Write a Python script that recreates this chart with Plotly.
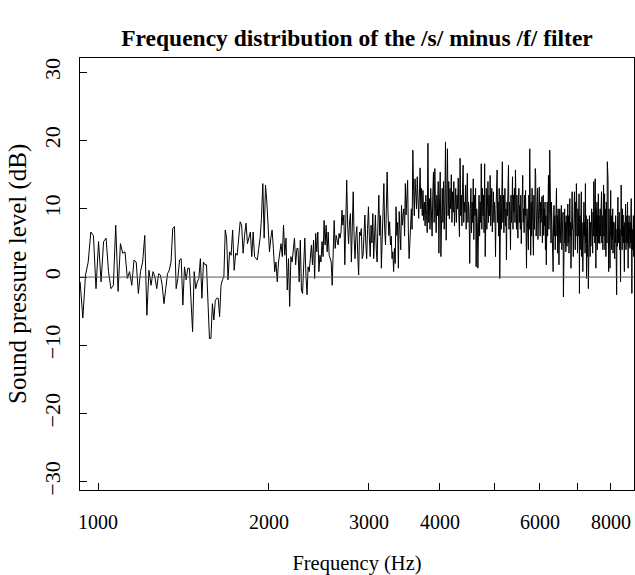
import numpy as np
import plotly.graph_objects as go

# Frequency bounds (Hz) of consecutive stretches of FFT bins
seg_bounds = [930, 1250, 1694, 2250, 2929, 3734, 4665, 5714, 6858, 7776, 8785]

# Level (dB) of the /s/ minus /f/ filter, read stretch by stretch
db_0930_1250 = [-0.7, -6.0, 0.3, 2.2, 6.6, 6.1, -1.7, 5.2, -0.7, 5.2, 5.7, 0.8, -1.7, -1.2, 7.6, -2.1,
                4.9, 3.5, 3.7, -0.2, 0.8, -1.2, 2.5, 2.2, -2.4, 0.8, 2.2, 6.1, -5.6, 1.0, -1.2]
db_1250_1694 = [0.8, 0, -1.7, 0.5, 0.3, -1.2, -3.9, -1.7, 0.5, 1.0, 2.2, 7.1, 7.4, -1.7, -0.2, 2.5,
                2.7, -4.1, 1.5, -0.4, 1.3, 1.3, -3.6, -8.0, 0.8, -1.7, -0.7, -0.2, 2.7, -3.1, 2.2, 1.8,
                1.8, -4.1, -9.0, -9.0, -3.9, -6.3, -3.4, -3.1, -3.1, -5.8, -1.2, -0.4, 0, 6.9, 5.7]
db_1694_2250 = [-0.4, 3.7, 3.2, 6.9, 1.0, 3.5, 3.2, 5.2, 8.1, 7.6, 3.5, 6.1, 7.9, 4.9, 5.7, 6.6,
                3.0, 6.6, 3.0, 2.7, 2.5, 4.2, 5.7, 8.6, 13.7, 5.7, 13.5, 11.0, 6.1, 3.7, 5.7, 6.9,
                4.2, 0.8, 2.2, -0.7, 2.2, 3.5, 4.9, 3.0, 7.6, 3.2, 5.7, -1.9, 2.7, -4.3, 3.0, 2.2,
                3.7, 5.7, 1.8, 4.2]
db_2250_2929 = [4.2, -0.7, 5.4, -1.9, -2.4, 1.3, 5.7, 0.3, -2.6, 1.5, 0.8, 2.7, 4.7, 1.8, 5.4, -0.2,
                6.4, 3.7, 6.6, 0.8, 3.2, 2.2, 5.2, 3.0, 8.3, 4.7, 7.6, 3.7, 6.6, 3.2, 2.7, 2.2,
                -1.2, 5.7, 8.3, 4.2, 6.1, 5.4, 4.7, 6.4, 5.7, 6.6, 9.8, 7.6, 9.1, 1.8, 6.6, 14.2,
                7.6, 4.9, 8.1, 9.3, 2.2, 6.1, 12.5, 5.7, 2.7, 6.1, 7.4, 3.2, 0.3, 6.6, 6.1, 7.1, 2.7]
db_2929_3734 = [3.2, 6, 9.1, 5, 2.7, 7, 10.3, 6, 3.0, 7.6, 5, 9.3, 2.7, 6, 9.1, 4,
                2.2, 8, 12.0, 6.1, 9, 1.3, 5, 8.6, 13.7, 7, 4.7, 10, 15.4, 9.6, 6.1, 8.1,
                4.7, 6, 2.7, 3.7, 0.8, 4.2, 2, 10.3, 6.1, 8, 1.3, 9.6, 6.6, 4, 10.5, 7.6,
                9, 10.0, 6, 13.7, 9.1, 11, 14.2, 6.6, 2.7, 5, 7.6, 10.0, 7, 18.6, 12.7, 9,
                14.4, 12.5, 10, 14.7, 11.5, 8.6, 12, 16, 10, 13, 9]
db_3734_4665 = [12.7, 8.3, 11, 7.5, 12, 9, 6.5, 19.6, 8, 11.5,
                7, 13, 9.5, 6, 12, 15.4, 8, 15.9, 10, 6.5,
                12, 9, 14, 3.5, 11, 15.4, 3.0, 10, 13, 8,
                14, 7, 11, 19.8, 5.4, 12, 18.8, 9, 14, 8.5,
                13, 10, 15, 8, 12.5, 9.5, 14, 7.5, 11, 13,
                8, 12, 10, 14.5, 9, 5.9, 17.4, 9, 12, 7.5,
                13, 16.4, 8, 11, 9.5, 13.5, 7, 12, 15.2, 8,
                11, 9, 2.0, 10, 13, 6.5, 11, 8, 14.4, 5.5,
                12, 9, 13, 1.5, 10, 8]
db_4665_5714 = [1.3, 9, 12, 6, 11, 8, 16.6, 7, 13, 9,
                12, 6.5, 16.6, 3.0, 10, 13, 7, 11, 14, 8,
                12, 9, 14.9, 7.5, 11, 13, 6.6, 10, 12.5, 8,
                11, 9, 3.0, 10, 12, 15.7, 8, 11, 6, 13,
                -0.2, 9, 12, 7, 10.5, 16.9, 8, 12, 6.5, 11,
                13, 7.5, 10, 2.5, 11, 9, 13, 16.4, 7, 11,
                9, 4.0, 12, 8, 10.5, 14.7, 7, 12, 9.5, 13,
                8, 15.7, 10, 7, 12, 9, 5.7, 11, 13, 8,
                10.5, 7, 12, 4.9, 9, 11.5, 14.9, 8, 10, 6.5,
                12, 9, 12.7, 7, 1.3, 10, 8]
db_5714_6858 = [9, 4, 12, 7, 18.8, 10, 3.2, 11, 6, 13,
                8, 10, 3.2, 12, 7, 9.5, 15.9, 14.9, 6, 11,
                8, 13, 5.5, 10, 7.5, 13.2, 9, 6, 11, 8,
                10, 11.8, 5, 9, 12, 6.1, 10, 7.5, 11, 4,
                9, 1.8, 8, 11, 6, 10, 14.9, 7, 9, 18.6,
                8, 9.6, 5, 11, 7, 10, 4.5, 0.8, 8, 10.5,
                6, 9, 4, 11, 7.5, 13.0, 6, 9, 3.5, 10,
                7, 1.8, 8, 10, 5, 9, 6.5, 10.5, 4, 8,
                6, 9.5, -2.9, 7, 3, 10, 5, 8, 3.7, 9,
                6, 4.5, 8.5, 10.7, 5, 9, 3.5, 7, 11.5, 6,
                8, 1.3, 9, 5, 12.5, 7]
db_6858_7776 = [7, 3, 10, 5, 12.5, 8, 4, 11, 6, 13.7,
                5, 9, 3.5, 10, 6, 8, 12.2, -2.4, 9, 4,
                10, 6, 12.5, 3, 8, 5, 0.8, 9, 4, 11,
                6, 8, 3.5, 13.7, 5, 9, -0.2, 7, 3, 8.5,
                4, -1.7, 7, 2.5, 9, 5, 3, 8, 4.5, 7,
                10.0, 5, 8, 3.5, 9.5, 6, 14.0, 7, 10, 5,
                14.4, 8, 1.3, 10, 6, 11, 4, 9, 7, 12.2,
                5, 9, 7, 4.9, 10, 6, 8, 11, 12.5, 5,
                9, 7, 4, 6.4, 13.5]
db_7776_8785 = [6, 9, 12.2, 4, 10, 7, 3, 11, 8, 5,
                16.9, 9, 14.4, 6, 0.8, 10, 5, 8, 1.3, 7,
                12.7, 6, 9, 4, 8, 5.5, 10, 3.5, 8.1, 6,
                7, 4, 2.7, 8, 5, 9, 3, 6.5, -2.6, 7,
                4.5, 9, 11.7, 5, 8, 6, 9.5, 4, 7, 5,
                -0.7, 8, 13.5, 6, 9, 4, 10, 6, 9.1, 5,
                7.5, 3, 0.8, 8, 5, 9, 10.7, 4, 8, 6,
                9, 5, 11.0, 6, 1.3, 8, 4.5, 9, 6, 7,
                4.2, 8, 5, 9.5, 11.5, 6, -2.4, 7, 4, 8,
                5, 9, 3, 6]

segments = [db_0930_1250, db_1250_1694, db_1694_2250, db_2250_2929, db_2929_3734,
            db_3734_4665, db_4665_5714, db_5714_6858, db_6858_7776, db_7776_8785]

x_tick_vals = [1000, 2000, 3000, 4000, 5000, 6000, 7000, 8000]
x_tick_text = ["1000", "2000", "3000", "4000", "", "6000", "", "8000"]
y_tick_vals = [-30, -20, -10, 0, 10, 20, 30]
y_tick_text = ["\u221230", "\u221220", "\u221210", "0", "10", "20", "30"]

freq, level = [], []
for i, seg in enumerate(segments):
    last = i == len(segments) - 1
    f = np.linspace(seg_bounds[i], seg_bounds[i + 1], len(seg), endpoint=last)
    freq.extend(f.tolist())
    level.extend(seg)

FONT = "Liberation Serif"
FIG_W, FIG_H = 635, 575

fig = go.Figure()
fig.add_trace(go.Scatter(x=freq, y=level, mode="lines",
                         line=dict(color="black", width=1), showlegend=False,
                         hoverinfo="skip"))
fig.add_hline(y=0, line=dict(color="#555555", width=1))

fig.add_annotation(text="Sound pressure level (dB)", textangle=-90,
                   xref="paper", yref="paper", x=0, y=0.5,
                   xanchor="center", yanchor="middle", xshift=-62, showarrow=False,
                   font=dict(family=FONT, size=25, color="black"))

fig.update_layout(
    width=FIG_W, height=FIG_H,
    margin=dict(l=80, r=1, t=58, b=85),
    paper_bgcolor="white", plot_bgcolor="white",
    font=dict(family=FONT, color="black", size=20),
    title=dict(text="<b>Frequency distribution of the /s/ minus /f/ filter</b>",
               x=0.5, xref="paper", xanchor="center",
               y=1 - 38 / FIG_H, yref="container", yanchor="middle",
               font=dict(family=FONT, size=23.5, color="black")),
    xaxis=dict(type="log", range=[np.log10(929.6), np.log10(8785)],
               tickvals=x_tick_vals, ticktext=x_tick_text,
               ticks="inside", ticklen=7, tickcolor="black", tickwidth=1,
               showline=True, linecolor="black", linewidth=1, mirror=True,
               showgrid=False, zeroline=False,
               tickfont=dict(family=FONT, size=20, color="black"), ticklabelstandoff=14,
               title=dict(text="Frequency (Hz)", font=dict(family=FONT, size=20.5, color="black"),
                          standoff=24)),
    yaxis=dict(range=[-31.2, 32.1],
               tickvals=y_tick_vals, ticktext=y_tick_text, tickangle=-90,
               ticks="inside", ticklen=7, tickcolor="black", tickwidth=1,
               showline=True, linecolor="black", linewidth=1, mirror=True,
               showgrid=False, zeroline=False,
               tickfont=dict(family=FONT, size=22, color="black"), ticklabelstandoff=10),
)

# remove the default 8px page margin so the figure sits at the window's corner
fig.write_html("out.html",
               config={"displayModeBar": False},
               post_script="document.body.style.margin='0';document.body.style.overflow='hidden';")
